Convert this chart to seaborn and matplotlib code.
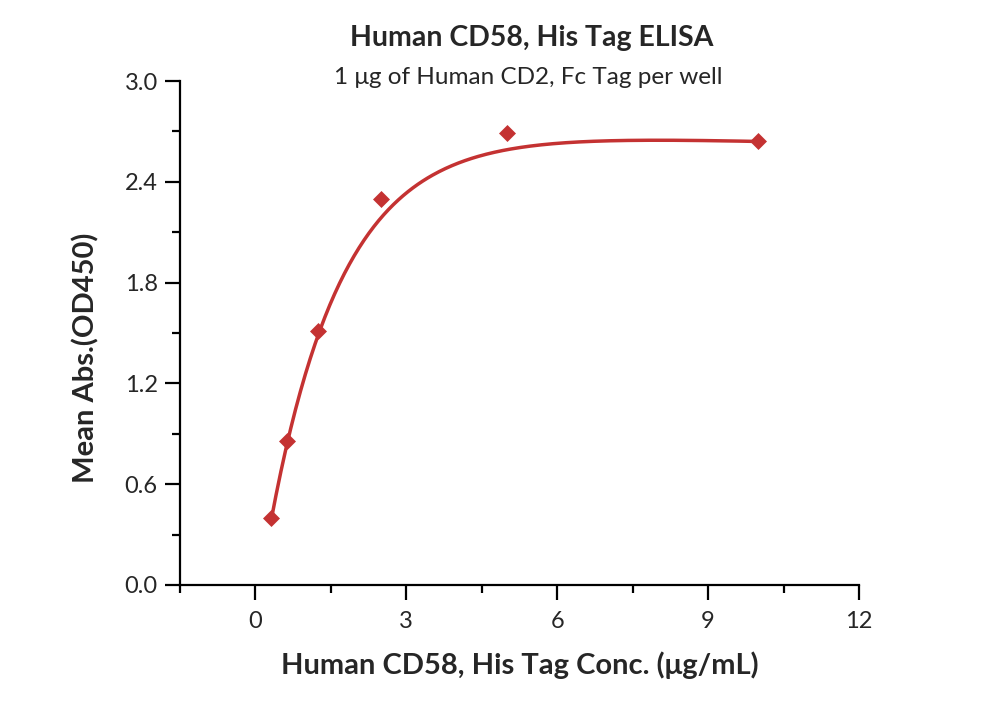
"""
ELISA binding curve: Human CD58, His Tag vs immobilised Human CD2, Fc Tag
"""

import numpy as np
import pandas as pd
import matplotlib
matplotlib.use('Agg')
import matplotlib.pyplot as plt
from matplotlib.ticker import MultipleLocator
import seaborn as sns

conc = [0.3125, 0.625, 1.25, 2.5, 5.0, 10.0]
od450 = [0.40, 0.86, 1.51, 2.30, 2.69, 2.64]

# Fitted curve parameters, estimated from the drawn fit line
fit_top = 2.723
fit_rate = 0.69
fit_shift = 0.09
fit_drift = 0.008

x_ticks = [0, 3, 6, 9, 12]
y_ticks = [0.0, 0.6, 1.2, 1.8, 2.4, 3.0]

title = 'Human CD58, His Tag ELISA'
subtitle = '1 \u03bcg of Human CD2, Fc Tag per well'
x_label = 'Human CD58, His Tag Conc. (\u03bcg/mL)'
y_label = 'Mean Abs.(OD450)'

red = '#C43232'

sns.set_style('ticks')
plt.rcParams['font.family'] = ['Lato', 'DejaVu Sans']


def fit_curve(x):
    """Saturation curve drawn through the points"""
    return fit_top * (1 - np.exp(-fit_rate * (x - fit_shift))) - fit_drift * x


points = pd.DataFrame({'conc': conc, 'od': od450})
x_fit = np.linspace(min(conc), max(conc), 300)
curve = pd.DataFrame({'conc': x_fit, 'od': fit_curve(x_fit)})

fig = plt.figure(figsize=(10, 7.02), dpi=100)
ax = fig.add_axes([0.18, 0.1667, 0.679, 0.7179])

sns.lineplot(data=curve, x='conc', y='od', ax=ax, color=red, linewidth=2.5)
sns.scatterplot(data=points, x='conc', y='od', ax=ax, color=red, marker='D',
                s=75, edgecolor=red, linewidth=0, zorder=3)

ax.set_xlim(-1.5, 12)
ax.set_ylim(0, 3.0)
ax.set_xticks(x_ticks)
ax.set_yticks(y_ticks)
ax.set_yticklabels([f'{v:.1f}' for v in y_ticks])
ax.xaxis.set_minor_locator(MultipleLocator(1.5))
ax.yaxis.set_minor_locator(MultipleLocator(0.3))

for side in ['top', 'right']:
    ax.spines[side].set_visible(False)
for side in ['left', 'bottom']:
    ax.spines[side].set_linewidth(1.6)
    ax.spines[side].set_color('black')

ax.tick_params(which='major', length=11, width=1.6, labelsize=17, pad=5, color='black')
ax.tick_params(which='minor', length=5.5, width=1.6, color='black')
ax.tick_params(axis='x', pad=8)

ax.set_xlabel(x_label, fontsize=21, fontweight='bold', labelpad=14)
ax.set_ylabel(y_label, fontsize=21, fontweight='bold')
# the y label sits a little below the axis middle in the reference
ax.yaxis.set_label_coords(-0.119, 0.45)

fig.text(0.532, 0.946, title, ha='center', va='center', fontsize=20.5, fontweight='bold')
fig.text(0.528, 0.889, subtitle, ha='center', va='center', fontsize=17.5)

fig.savefig('out.png', dpi=100, facecolor='white')
plt.close(fig)
